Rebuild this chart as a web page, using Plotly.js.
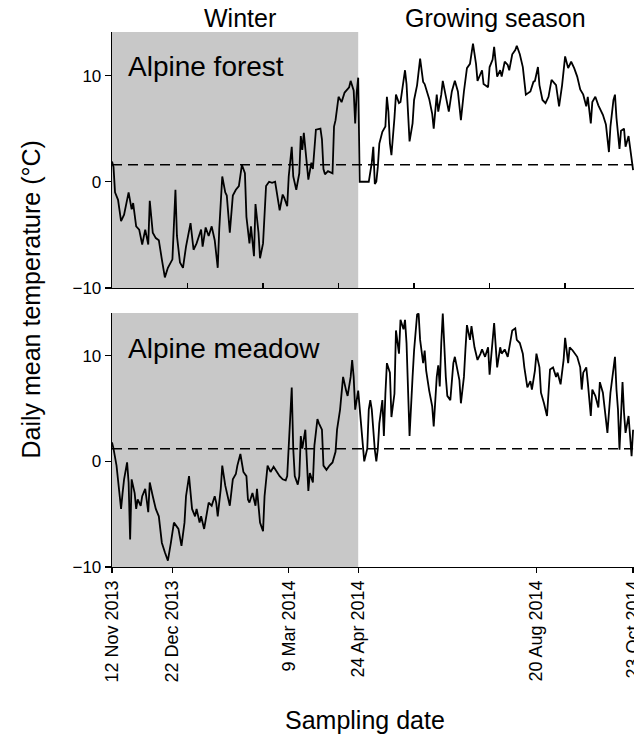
<!DOCTYPE html>
<html><head><meta charset="utf-8">
<script src="https://cdn.plot.ly/plotly-3.0.1.min.js"></script>
<style>html,body{margin:0;padding:0;background:#fff}</style>
</head><body><div id="chart" style="width:634px;height:740px"></div>
<script>
// Days since 12 Nov 2013
const forestDays = [0,1,2,4,6,8,11,13,14,16,18,20,22,24,25,27,29,31,33,35,37,39,40,42,43,45,47,49,52,54,56,59,60,62,64,66,68,70,71,73,75,76,78,80,82,84,86,88,89,91,92,94,95,97,98,100,102,104,106,108,111,113,114,116,117,119,120,122,124,125,126,127,129,130,132,133,135,138,139,140,141,143,146,147,148,150,152,154,157,158,160,161,162,163,164,166,168,170,172,173,174,175,176,177,179,181,182,183,184,185,187,188,190,191,192,194,195,197,199,200,202,203,204,206,207,210,212,213,215,216,218,219,221,223,225,227,229,231,233,234,235,237,239,241,242,245,246,249,250,252,253,255,257,258,260,262,263,265,267,268,270,272,274,277,279,280,282,283,285,287,289,291,294,296,298,300,302,304,306,308,310,312,314,315,317,318,320,322,325,327,329,330,332,333,334,336,337,339,340,342,344,345];
const forestTemps = [1.9,1.4,-1.0,-1.7,-3.7,-3.1,-1.0,-2.6,-2.0,-4.2,-4.5,-5.9,-4.5,-5.9,-1.8,-4.8,-5.3,-5.5,-7.3,-9.0,-8.1,-7.5,-7.3,-0.75,-5.1,-7.6,-8.1,-6.1,-3.9,-6.4,-5.8,-4.5,-6.1,-4.3,-5.1,-4.2,-5.5,-8.1,-4.5,0.5,-1.0,-1.3,-4.8,-1.3,-0.75,-0.4,1.6,0.8,-3.3,-5.8,-4.2,-7.0,-2.1,-4.8,-7.2,-5.8,-0.4,0.0,-0.1,0.0,-2.7,-1.2,-1.5,-2.3,0.5,3.3,0.5,-0.75,0.8,4.3,3.0,4.6,1.8,0.2,1.8,1.2,4.9,5.0,4.0,1.2,0.7,1.0,0.8,5.2,5.8,8.0,7.5,8.4,8.9,9.5,8.6,5.5,8.4,9.8,0.0,0.0,0.0,0.0,1.8,3.3,-0.2,0.0,1.4,3.6,4.7,5.2,8.0,6.6,3.6,2.5,6.0,8.2,7.4,7.5,8.5,10.5,9.2,3.8,5.5,7.7,9.1,10.1,11.6,9.4,9.2,7.8,6.4,5.0,8.2,6.6,8.2,9.5,7.9,6.6,8.5,9.5,8.5,5.8,8.5,9.5,10.7,11.1,13.0,11.1,9.5,10.5,9.2,8.9,10.8,11.5,12.7,9.9,10.5,9.9,11.3,11.0,10.5,12.0,12.4,12.8,12.0,10.8,8.2,8.5,9.4,9.5,10.8,9.1,7.7,7.4,8.0,9.6,9.1,7.1,9.1,11.8,10.7,11.3,10.7,9.9,8.7,8.2,7.1,8.0,5.5,7.5,8.0,7.2,6.3,5.4,2.8,5.2,7.7,8.2,6.0,3.1,4.8,5.0,3.3,4.3,1.9,1.1];
const meadowDays = [0,1,3,4,6,7,8,10,11,12,13,15,16,17,19,20,22,24,25,27,29,31,33,35,37,39,41,44,46,48,49,51,53,55,56,58,59,61,63,64,66,68,69,70,72,73,75,76,78,80,82,83,85,87,89,90,91,93,95,96,98,100,101,103,105,107,109,111,113,115,116,117,119,120,121,123,124,125,126,128,129,130,131,133,134,136,137,139,140,142,144,146,148,149,151,152,153,155,156,158,159,160,161,163,164,166,167,169,170,171,172,174,175,176,177,179,180,181,182,184,185,187,188,190,191,193,194,195,197,199,200,202,203,204,206,207,208,210,212,213,215,216,217,218,219,221,222,224,226,227,229,230,231,233,234,235,237,238,240,242,244,245,247,249,250,252,253,255,257,258,260,262,263,265,267,268,270,272,273,275,277,278,280,281,283,284,286,288,289,290,292,294,295,297,299,300,302,303,305,307,308,310,311,312,314,315,317,318,320,322,323,325,327,328,330,332,333,334,335,336,337,338,339,340,342,343,344,345];
const meadowTemps = [1.8,1.2,-0.4,-2.0,-4.5,-3.0,-1.7,-0.1,-2.0,-7.4,-1.7,-3.0,-4.5,-3.6,-4.2,-3.3,-2.6,-4.8,-2.0,-3.3,-4.5,-5.2,-7.7,-8.6,-9.4,-7.7,-5.8,-6.4,-8.0,-5.8,-3.3,-1.4,-4.5,-5.2,-4.5,-5.8,-5.2,-6.4,-4.8,-3.9,-4.2,-3.3,-3.9,-5.2,-2.6,-0.4,-2.3,-3.0,-4.2,-1.7,-1.2,-0.4,0.7,-1.0,-1.4,-3.6,-3.9,-3.0,-4.2,-2.6,-5.8,-6.6,-3.3,-0.4,-1.0,-0.5,-1.0,-1.4,-1.7,-1.8,-1.4,1.2,7.0,1.2,-1.4,-2.2,-1.4,2.4,1.2,3.0,0.6,-2.8,-1.1,-2.0,1.5,4.0,3.6,3.0,-0.4,-0.8,-0.4,-0.1,0.9,3.0,4.9,6.2,8.0,6.7,6.2,8.0,9.6,8.0,4.9,6.7,4.9,1.8,0.0,1.2,4.9,5.8,4.9,1.1,0.0,1.2,3.6,5.8,2.4,6.4,9.3,8.4,4.2,6.4,12.4,10.2,13.4,12.5,13.4,11.2,2.4,8.0,10.5,13.9,14.0,11.5,9.3,10.5,8.6,6.7,5.2,3.3,8.0,9.1,7.1,11.2,14.0,8.0,6.2,5.8,9.3,9.9,8.4,7.7,5.5,8.0,10.6,12.9,11.5,12.8,10.8,9.6,10.2,10.6,9.9,10.8,8.2,11.5,13.1,8.9,10.8,10.2,10.6,9.9,10.8,12.4,12.6,11.5,11.2,10.2,8.9,7.0,7.6,6.8,8.6,10.2,8.9,6.5,5.5,4.3,6.5,8.7,8.9,8.0,8.4,7.3,9.6,11.7,9.3,10.8,10.5,10.1,9.9,8.9,6.8,8.4,8.9,7.5,4.3,6.8,6.2,5.1,7.5,6.5,4.0,2.7,6.5,8.7,9.9,6.8,4.9,1.1,5.2,7.5,4.6,2.7,4.3,1.8,0.5,3.0];

const thresholdTemps = [1.6, 1.2];          // dashed reference lines (forest, meadow)
const winterStartDay = 0;
const winterEndDay = 163;                    // 24 Apr 2014
const lastDay = 345;                         // 23 Oct 2014
const dateTickDays = [0, 40, 117, 163, 281, 345];
const dateTickLabels = ['12 Nov 2013','22 Dec 2013','9 Mar 2014','24 Apr 2014','20 Aug 2014','23 Oct 2014'];
const minorTickDays = [0, 50, 100, 150, 200, 250, 300];
const yTickVals = [-10, 0, 10];
const panelLabels = ['Alpine forest', 'Alpine meadow'];
const seasonLabels = ['Winter', 'Growing season'];

const FONT = '"Liberation Sans", Arial, sans-serif';
const lineStyle = {color: '#000', width: 1.8};

const traces = [
  {x: forestDays, y: forestTemps, xaxis: 'x', yaxis: 'y', mode: 'lines', line: lineStyle, hoverinfo: 'x+y'},
  {x: meadowDays, y: meadowTemps, xaxis: 'x2', yaxis: 'y2', mode: 'lines', line: lineStyle, hoverinfo: 'x+y'}
];

const yBase = {
  tickvals: yTickVals, ticks: 'outside', ticklen: 6, tickwidth: 1.3, tickcolor: '#000',
  showline: true, linecolor: '#000', linewidth: 1.3, showgrid: false, zeroline: false,
  tickfont: {family: FONT, size: 17, color: '#000'}
};
const xBase = {
  range: [winterStartDay, lastDay + 0.6], showline: true, linecolor: '#000', linewidth: 1.3,
  showgrid: false, zeroline: false, tickcolor: '#000', tickwidth: 1.3
};

const shapes = [];
[['x','y'],['x2','y2']].forEach(function(ax, i){
  shapes.push({type: 'rect', xref: ax[0], yref: ax[1] + ' domain', x0: winterStartDay, x1: winterEndDay,
    y0: 0, y1: 1, fillcolor: '#c8c8c8', line: {width: 0}, layer: 'below'});
  shapes.push({type: 'line', xref: ax[0], yref: ax[1], x0: winterStartDay, x1: lastDay,
    y0: thresholdTemps[i], y1: thresholdTemps[i], line: {color: '#000', width: 1.5, dash: '10px,6px'}});
});

const annotations = [
  {text: panelLabels[0], xref: 'x domain', yref: 'y domain', x: 0.026, y: 0.865, xanchor: 'left', yanchor: 'middle', showarrow: false, font: {family: FONT, size: 28, color: '#000'}},
  {text: panelLabels[1], xref: 'x2 domain', yref: 'y2 domain', x: 0.026, y: 0.862, xanchor: 'left', yanchor: 'middle', showarrow: false, font: {family: FONT, size: 28, color: '#000'}},
  {text: seasonLabels[0], xref: 'x', yref: 'paper', x: (winterStartDay + winterEndDay) / 2 + 3, y: 1.026, xanchor: 'center', yanchor: 'middle', showarrow: false, font: {family: FONT, size: 25, color: '#000'}},
  {text: seasonLabels[1], xref: 'x', yref: 'paper', x: (winterEndDay + lastDay) / 2, y: 1.026, xanchor: 'center', yanchor: 'middle', showarrow: false, font: {family: FONT, size: 25, color: '#000'}},
  {text: 'Daily mean temperature (°C)', xref: 'paper', yref: 'paper', x: -0.157, y: 0.5, textangle: -90, xanchor: 'center', yanchor: 'middle', showarrow: false, font: {family: FONT, size: 25, color: '#000'}},
  {text: 'Sampling date', xref: 'paper', yref: 'paper', x: 0.485, y: -0.286, xanchor: 'center', yanchor: 'middle', showarrow: false, font: {family: FONT, size: 25, color: '#000'}}
];

const layout = {
  width: 634, height: 740,
  margin: {l: 112, r: 0, t: 32, b: 173},
  paper_bgcolor: '#fff', plot_bgcolor: 'rgba(0,0,0,0)',
  showlegend: false,
  font: {family: FONT, color: '#000'},
  xaxis: Object.assign({}, xBase, {anchor: 'y', tickvals: minorTickDays, ticks: 'inside', ticklen: 5, showticklabels: false}),
  yaxis: Object.assign({}, yBase, {domain: [0.5215, 1], range: [-10, 14.1], anchor: 'x'}),
  xaxis2: Object.assign({}, xBase, {anchor: 'y2', tickvals: dateTickDays, ticktext: dateTickLabels, ticks: 'outside', ticklen: 5, tickangle: -90,
    ticklabeloverflow: 'allow', tickfont: {family: FONT, size: 18, color: '#000'}}),
  yaxis2: Object.assign({}, yBase, {domain: [0, 0.4748], range: [-10, 14.05], anchor: 'x2'}),
  shapes: shapes,
  annotations: annotations
};

Plotly.newPlot('chart', traces, layout, {displayModeBar: false, staticPlot: true});
</script>
</body></html>
